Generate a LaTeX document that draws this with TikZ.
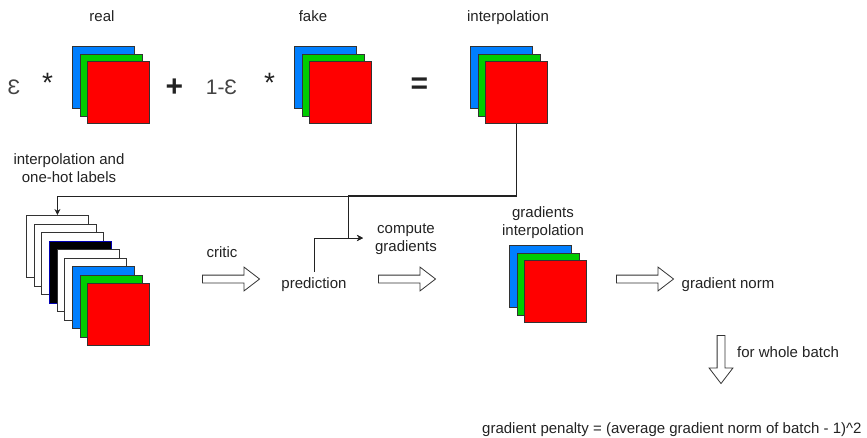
\documentclass[tikz,border=0pt]{standalone}
\usepackage{fontspec}
\setmainfont{Liberation Sans}
\usetikzlibrary{shapes.arrows,arrows.meta}

\definecolor{sqblue}{RGB}{0,127,255}
\definecolor{sqgreen}{RGB}{0,204,0}
\definecolor{sqred}{RGB}{255,0,0}
\definecolor{edge}{RGB}{51,51,51}
\definecolor{ink}{RGB}{34,34,34}

% three coloured channels, blue top left at (#2,#3)
\newcommand{\rgbstack}[3]{%
  \node (#1b) [layer, fill=sqblue]  at (#2,#3) {};
  \node (#1g) [layer, fill=sqgreen] at (#2+7.7,#3+7.7) {};
  \node (#1r) [layer, fill=sqred]   at (#2+15.4,#3+15.4) {};
}

\begin{document}
\begin{tikzpicture}[x=1pt,y=-1pt]

\useasboundingbox (0,0) rectangle (867,437);

%%% Styles

\tikzstyle{layer}=[rectangle, draw=edge, line width=0.8pt, minimum size=62pt, inner sep=0pt, anchor=north west]
\tikzstyle{lbl}=[font=\fontsize{15}{18}\selectfont, text=ink, inner sep=0pt, anchor=base, align=center]
\tikzstyle{sym}=[font=\fontsize{30}{30}\selectfont\bfseries, text=ink, inner sep=0pt]
\tikzstyle{star}=[font=\fontsize{28}{28}\selectfont, text=ink, inner sep=0pt]
\tikzstyle{eps}=[font=\fontsize{21}{21}\selectfont, text=ink!85, inner sep=0pt]
\tikzstyle{hollow}=[single arrow, draw=edge, fill=white, line width=0.8pt, inner sep=3.5pt, minimum height=57pt, single arrow head extend=8pt, single arrow tip angle=75]
\tikzstyle{wire}=[draw=ink, line width=0.8pt, -{Stealth[length=6pt,width=6pt]}]

% Top row: weighted sum

\node (e1) [eps] at (14,87.5) {Ɛ};
\node (m1) [star] at (47.5,82.5) {*};
\rgbstack{re}{72}{46}
\node (pl) [sym] at (174.5,87.5) {+};
\node (e2) [eps] at (221.5,87.5) {1-Ɛ};
\node (m2) [star] at (269.5,82.5) {*};
\rgbstack{fa}{294}{46}
\node (eq) [sym] at (419.5,86) {=};
\rgbstack{in}{470}{46}

\node (real) [lbl] at (102,21) {real};
\node (fake) [lbl] at (313,21) {fake};
\node (interp) [lbl] at (508,21) {interpolation};

% Left stack: interpolation + one-hot labels

\node (lstack) [lbl] at (69,182) {interpolation and\\one-hot labels};

\foreach \c/\d [count=\i from 0] in {white/edge, white/edge, white/edge, black/blue!70!black,
    white/edge, white/edge, sqblue/edge, sqgreen/edge, sqred/edge}
  \node (l\i) [layer, fill=\c, draw=\d] at (26+7.65*\i, 215+8.5*\i) {};

% Critic and prediction

\node (critic) [lbl] at (222,257) {critic};
\node (a1) [hollow] at (228.5,279) {};
\node (pred) [lbl] at (314,288) {prediction};
\node (a2) [hollow] at (404.5,279) {};
\node (cgrad) [lbl] at (406,251) {compute\\gradients};

% Gradients of interpolation

\node (ginterp) [lbl] at (543,235) {gradients\\interpolation};
\rgbstack{gr}{509}{245}
\node (a3) [hollow] at (642.5,279) {};
\node (gnorm) [lbl] at (728,288) {gradient norm};

% Whole batch

\node (a4) [hollow, shape border rotate=270, minimum height=48pt] at (721,357) {};
\node (batch) [lbl, anchor=base west] at (737,357) {for whole batch};
\node (penalty) [lbl, anchor=base west] at (482,433) {gradient penalty = (average gradient norm of batch - 1)\textasciicircum 2};

% Wires

\coordinate (split) at (348,195);
\coordinate (cgin) at (363,238);

\draw [wire] (inr.south) -- ++(0,72) -| (l0.north);
\draw [wire] (inr.south) |- (split) |- (cgin);
\draw [wire] ([yshift=5pt]pred.north) |- (cgin);

\end{tikzpicture}
\end{document}
